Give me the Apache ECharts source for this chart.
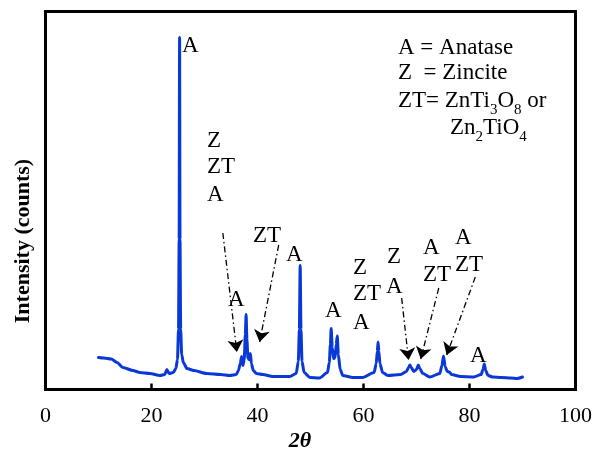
<!DOCTYPE html>
<html><head><meta charset="utf-8">
<script src="https://cdn.jsdelivr.net/npm/echarts@6/dist/echarts.min.js"></script>
<style>html,body{margin:0;padding:0;background:#fff}#c{width:595px;height:449px}</style>
</head><body><div id="c"></div>
<script>
// 2θ positions (degrees)
const twoTheta = [10, 11, 12.4, 13.5, 14.6, 16.5, 17.8, 19.7, 21.6, 22.5, 22.9, 23.3, 24.1, 24.6, 24.9, 25.1, 25.22, 25.3, 25.38, 25.5, 25.7, 26.0,
  26.7, 28, 30.4, 33, 34.8, 36.0, 36.4, 36.75, 37.0, 37.25, 37.5, 37.7, 37.85, 38.0, 38.2, 38.4, 38.65, 38.85, 39.2, 39.8, 41, 42.9, 46.1, 47.3,
  47.7, 47.9, 48.05, 48.2, 48.4, 48.8, 49.9, 51.7, 53.2, 53.55, 53.75, 53.9, 54.1, 54.35, 54.65, 54.85, 55.05, 55.25, 55.6, 56.1, 58, 59.8,
  62.0, 62.4, 62.6, 62.75, 62.9, 63.1, 63.6, 64.6, 67, 68.1, 68.5, 68.75, 69.0, 69.5, 70.0, 70.35, 70.6, 71.2, 72.5,
  74.4, 74.8, 75.1, 75.4, 75.8, 76.2, 76.6, 78.3, 80.8, 82.2, 82.55, 82.8, 83.05, 83.5, 84.4, 86, 87.8, 89, 90];
// Intensity (arbitrary counts)
const intensity = [32, 31.5, 30.5, 27, 22, 19, 17, 16, 14, 15, 20, 16, 17, 21, 30, 60, 150, 352, 150, 60, 35, 27,
  21, 19, 16, 15, 14, 15, 19, 26, 33, 24, 30, 55, 75, 50, 31, 30, 36, 26, 19, 16, 15, 13, 13, 16,
  28, 60, 124, 60, 28, 17, 12, 11.5, 17, 27, 45, 61, 42, 31, 32, 45, 53.5, 35, 20, 14, 12, 12,
  17, 26, 38, 47.5, 38, 26, 17, 14, 15, 18, 22, 24.5, 22, 18, 20, 24.5, 21, 16, 12.5,
  16, 24, 33.5, 23, 18, 17.5, 15, 13, 12.5, 15, 20, 25.5, 19, 14, 12.5, 12, 11.5, 11, 12.5];
const xTickValues = [0, 20, 40, 60, 80, 100];
// Phase-label arrows: [fromX, fromY] -> [toX, toY] in data units
const arrowsFrom = [[33.46, 156.5], [44.0, 144.5], [67.2, 91.5], [74.2, 101.5], [81.1, 112.5]];
const arrowsTo = [[36.1, 37.5], [40.4, 47.5], [68.5, 29.5], [70.8, 30.5], [75.7, 34.5]];

const serif = 'Liberation Serif, Times New Roman, serif';
const chart = echarts.init(document.getElementById('c'), null, {renderer: 'canvas'});

function txt(t, x, y, size) {
  return {type: 'text', x: x, y: y, style: {text: t, font: (size || 23) + 'px ' + serif, fill: '#000', textVerticalAlign: 'middle', textAlign: 'left'}};
}
const labels = [
  ['A', 182, 45.5],
  ['Z', 207, 140.5], ['ZT', 207, 167], ['A', 207, 195],
  ['ZT', 253, 235.5],
  ['A', 228, 300],
  ['A', 286, 254.5],
  ['A', 325, 310.5],
  ['Z', 353, 267.5], ['ZT', 353, 294], ['A', 353, 322.5],
  ['Z', 387, 257], ['A', 386, 287],
  ['A', 423, 247.5], ['ZT', 423, 275],
  ['A', 455, 237.5], ['ZT', 455, 264.5],
  ['A', 470, 355.5]
];
const graphics = labels.map(l => txt(l[0], l[1], l[2]));
graphics.push(txt('A = Anatase', 398, 47.5));
graphics.push(txt('Z  = Zincite', 398, 72.5));
const rich = {n: {font: '23px ' + serif, fill: '#000'}, s: {font: '15px ' + serif, fill: '#000', padding: [18, 0, 0, 0]}};
graphics.push({type: 'text', x: 398, y: 101, style: {text: '{n|ZT= ZnTi}{s|3}{n|O}{s|8}{n| or}', textVerticalAlign: 'middle', textAlign: 'left', rich: rich}});
graphics.push({type: 'text', x: 450, y: 128, style: {text: '{n|Zn}{s|2}{n|TiO}{s|4}', textVerticalAlign: 'middle', textAlign: 'left', rich: rich}});
graphics.push({type: 'text', x: 300, y: 441, style: {text: '2θ', font: 'italic bold 22px ' + serif, fill: '#000', textAlign: 'center', textVerticalAlign: 'middle'}});
graphics.push({type: 'text', x: 23, y: 241, rotation: Math.PI / 2, style: {text: 'Intensity (counts)', font: 'bold 22px ' + serif, fill: '#000', textAlign: 'center', textVerticalAlign: 'middle'}});

chart.setOption({
  animation: false,
  backgroundColor: '#fff',
  grid: {left: 45.5, right: 19, top: 11.5, bottom: 59.5, show: true, borderColor: '#000', borderWidth: 3, backgroundColor: 'transparent'},
  xAxis: {
    type: 'value', min: 0, max: 100, interval: 20,
    axisLine: {show: true, lineStyle: {color: '#000', width: 3}},
    axisTick: {show: true, inside: true, length: 6, lineStyle: {color: '#000', width: 2.5}},
    axisLabel: {fontFamily: serif, fontSize: 22, color: '#000', margin: 16,
      formatter: v => xTickValues.includes(v) ? String(v) : ''},
    splitLine: {show: false}
  },
  yAxis: {
    type: 'value', min: 0, max: 378,
    axisLine: {show: true, lineStyle: {color: '#000', width: 3}},
    axisTick: {show: false}, axisLabel: {show: false}, splitLine: {show: false}
  },
  series: [{
    type: 'line',
    data: twoTheta.map((x, i) => [x, intensity[i]]),
    showSymbol: false, symbol: 'none',
    smooth: 0.25, smoothMonotone: 'x',
    lineStyle: {color: '#0a38d6', width: 3, join: 'round', cap: 'round'},
    markLine: {
      silent: true, symbol: ['none', 'arrow'], symbolSize: [0, 12],
      label: {show: false},
      lineStyle: {color: '#000', width: 1.3, type: [6, 3, 1.5, 3]},
      data: arrowsFrom.map((f, i) => [{coord: f, symbol: 'none'}, {coord: arrowsTo[i], symbol: 'arrow', symbolSize: 12}])
    }
  }],
  graphic: graphics
});
</script></body></html>
